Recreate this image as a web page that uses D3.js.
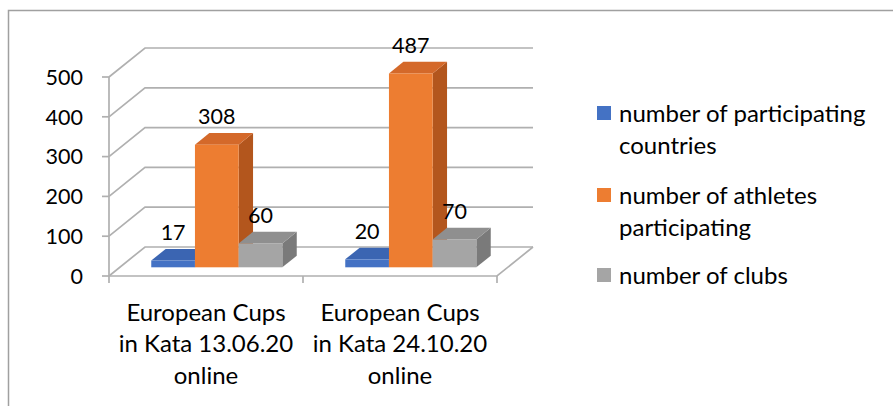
<!DOCTYPE html>
<html>
<head>
<meta charset="utf-8">
<script src="https://cdn.jsdelivr.net/npm/d3@7"></script>
<style>
  html, body { margin: 0; padding: 0; background: #fff; }
  svg { display: block; }
</style>
</head>
<body>
<div id="chart"></div>
<script>
const categories = ["European Cups in Kata 13.06.20 online", "European Cups in Kata 24.10.20 online"]
const categoryLines = [["European Cups", "in Kata 13.06.20", "online"], ["European Cups", "in Kata 24.10.20", "online"]]
const seriesNames = ["number of participating countries", "number of athletes participating", "number of clubs"]
const legendLines = [["number of participating", "countries"], ["number of athletes", "participating"], ["number of clubs"]]
const countries = [17, 20]
const athletes = [308, 487]
const clubs = [60, 70]
const yTicks = [0, 100, 200, 300, 400, 500]

const seriesValues = [countries, athletes, clubs]
const colors = [
  { front: "#4472C4", top: "#3b65b2", side: "#2f5597" },
  { front: "#ED7D31", top: "#d4692a", side: "#b3561d" },
  { front: "#A5A5A5", top: "#8f8f8f", side: "#7a7a7a" }
]

const width = 893, height = 406
const font = "Lato, 'Open Sans', sans-serif"
const textSize = 24, numSize = 21.5

// depth of the floor, projected
const DX = 36, DY = -29
const dFront = 0.3, dBack = 0.7

const svg = d3.select("#chart").append("svg")
  .attr("width", width)
  .attr("height", height)
  .attr("font-family", font)

// chart area border (right/bottom run off the picture)
svg.append("rect")
  .attr("x", 8.5).attr("y", 10.5)
  .attr("width", width).attr("height", height)
  .attr("fill", "none")
  .attr("stroke", "#a0a0a0")
  .attr("stroke-width", 1.5)

const y = d3.scaleLinear().domain([0, 500]).range([276, 77])
const x0 = d3.scaleBand().domain(categories).range([109, 497])
const x1 = d3.scaleBand().domain(seriesNames).range([0, x0.bandwidth()]).paddingOuter(0.72)

const xl = x0.range()[0], xr = x0.range()[1]
const grid = svg.append("g")
  .attr("stroke", "#b0b0b0")
  .attr("stroke-width", 1.7)
  .attr("fill", "none")

// left wall + back wall gridlines
grid.selectAll("path.g")
  .data(yTicks)
  .join("path")
  .attr("class", "g")
  .attr("d", t => `M${xl},${y(t)} l${DX},${DY} H${xr + DX}`)

// floor
grid.append("path")
  .attr("d", `M${xl},${y(0)} H${xr} l${DX},${DY}`)

// value axis line and ticks
grid.append("path").attr("d", `M${xl},${y(500)} V${y(0)}`)
grid.selectAll("path.yt")
  .data(yTicks)
  .join("path")
  .attr("class", "yt")
  .attr("d", t => `M${xl - 7},${y(t)} H${xl}`)

// category ticks
grid.selectAll("path.xt")
  .data([...categories.map(c => x0(c)), xr])
  .join("path")
  .attr("class", "xt")
  .attr("d", x => `M${x},${y(0)} v7`)

svg.append("g")
  .attr("font-size", numSize)
  .attr("text-anchor", "end")
  .attr("fill", "#000")
  .selectAll("text")
  .data(yTicks)
  .join("text")
  .attr("x", 83)
  .attr("y", t => y(t))
  .attr("dy", "0.36em")
  .text(t => t)

// bars
const bars = []
categories.forEach((c, ci) => {
  seriesNames.forEach((s, si) => {
    bars.push({ c, s, si, value: seriesValues[si][ci] })
  })
})

const bw = x1.bandwidth()
const ox = DX * dFront, oy = DY * dFront
const ddx = DX * (dBack - dFront), ddy = DY * (dBack - dFront)

const bar = svg.append("g")
  .selectAll("g")
  .data(bars)
  .join("g")

bar.append("path") // side
  .attr("fill", d => colors[d.si].side)
  .attr("d", d => {
    const x = x0(d.c) + x1(d.s) + ox + bw
    const yt = y(d.value) + oy, yb = y(0) + oy
    return `M${x},${yb} V${yt} l${ddx},${ddy} V${yb + ddy} Z`
  })

bar.append("path") // top
  .attr("fill", d => colors[d.si].top)
  .attr("d", d => {
    const x = x0(d.c) + x1(d.s) + ox
    const yt = y(d.value) + oy
    return `M${x},${yt} l${ddx},${ddy} h${bw} l${-ddx},${-ddy} Z`
  })

bar.append("rect") // front
  .attr("fill", d => colors[d.si].front)
  .attr("x", d => x0(d.c) + x1(d.s) + ox)
  .attr("y", d => y(d.value) + oy)
  .attr("width", bw)
  .attr("height", d => y(0) - y(d.value))

// data labels
svg.append("g")
  .attr("font-size", numSize)
  .attr("text-anchor", "middle")
  .selectAll("text")
  .data(bars)
  .join("text")
  .attr("x", d => x0(d.c) + x1(d.s) + ox + bw / 2)
  .attr("y", d => y(d.value) + oy - 28)
  .attr("dy", "0.36em")
  .text(d => d.value)

// category labels
const cat = svg.append("g")
  .attr("font-size", textSize)
  .attr("text-anchor", "middle")
  .selectAll("text")
  .data(categories)
  .join("text")
  .attr("x", c => x0(c) + x0.bandwidth() / 2)
  .attr("y", 312)

cat.selectAll("tspan")
  .data((c, i) => categoryLines[i])
  .join("tspan")
  .attr("x", function () { return this.parentNode.getAttribute("x") })
  .attr("dy", (d, i) => i === 0 ? "0.36em" : 31.5)
  .text(d => d)

// legend
const legendY = [113, 195, 275]
const legend = svg.append("g")
  .selectAll("g")
  .data(seriesNames)
  .join("g")
  .attr("transform", (s, i) => `translate(597,${legendY[i]})`)

legend.append("rect")
  .attr("x", 0).attr("y", -7)
  .attr("width", 14).attr("height", 14)
  .attr("fill", (s, i) => colors[i].front)

legend.append("text")
  .attr("font-size", textSize)
  .selectAll("tspan")
  .data((s, i) => legendLines[i])
  .join("tspan")
  .attr("x", 22)
  .attr("y", (d, i) => i * 32)
  .attr("dy", "0.36em")
  .text(d => d)
</script>
</body>
</html>
